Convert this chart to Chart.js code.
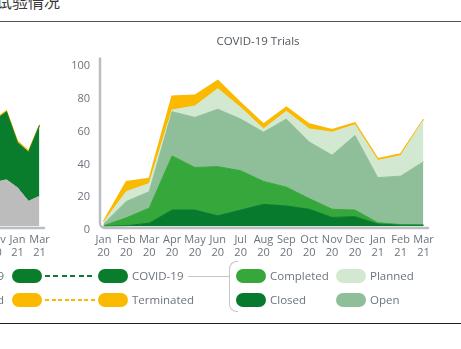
<!DOCTYPE html>
<html lang="en">
<head>
  <meta charset="UTF-8">
  <title>COVID-19 Trials</title>
  <script src="https://cdn.jsdelivr.net/npm/chart.js"></script>
  <style>
    body {
      margin: 0;
      background: #fff;
      font-family: "Open Sans", sans-serif;
    }
    #page {
      position: relative;
      width: 461px;
      height: 349px;
      overflow: hidden;
    }
    canvas {
      position: absolute;
      top: 0;
    }
    .rule {
      position: absolute;
      left: 0;
      width: 461px;
      height: 1px;
    }
    .heading {
      position: absolute;
      left: -4px;
      top: -7px;
      font-family: "Noto Sans CJK SC", sans-serif;
      font-size: 16px;
      line-height: 16px;
      color: #3a3a3a;
      white-space: nowrap;
    }
    .title {
      position: absolute;
      left: 158px;
      width: 200px;
      top: 34px;
      text-align: center;
      font-size: 11.5px;
      line-height: 14px;
      color: #50575e;
    }
    .pill {
      position: absolute;
      width: 30px;
      height: 14px;
      border-radius: 7px;
    }
    .lbl {
      position: absolute;
      font-size: 11.5px;
      line-height: 14px;
      color: #6b737c;
      white-space: nowrap;
    }
    .lbl.right {
      text-align: right;
      width: 100px;
    }
    .dash {
      position: absolute;
      height: 2px;
    }
  </style>
</head>
<body>
<div id="page">
  <div class="heading">试验情况</div>
  <div class="rule" style="top:21px; background:#555;"></div>
  <div class="rule" style="top:323px; background:#222;"></div>

  <canvas id="allChart" width="260" height="349" style="left:-200px"></canvas>
  <canvas id="covidChart" width="461" height="349" style="left:0"></canvas>

  <div class="title">COVID-19 Trials</div>

  <!-- legend, row 1 -->
  <div class="lbl right" style="left:-96px; top:269px;">COVID-19</div>
  <div class="pill" style="left:12px; top:269px; background:#0a7d2c;"></div>
  <div class="dash" style="left:45px; top:275px; width:51px; background:repeating-linear-gradient(to right,#0a7d2c 0 5px,transparent 5px 8.5px);"></div>
  <div class="pill" style="left:98px; top:269px; background:#0a7d2c;"></div>
  <div class="lbl" style="left:132px; top:269px;">COVID-19</div>
  <div style="position:absolute; left:188px; top:275.5px; width:42px; height:1.5px; background:#c3c7cb;"></div>
  <div style="position:absolute; left:229px; top:261px; width:8px; height:49px; border:1.5px solid #c3c7cb; border-right:none; border-radius:8px 0 0 8px;"></div>

  <!-- legend, row 2 -->
  <div class="lbl right" style="left:-96px; top:293px;">Terminated</div>
  <div class="pill" style="left:12px; top:293px; background:#fbb900;"></div>
  <div class="dash" style="left:45px; top:299px; width:51px; background:repeating-linear-gradient(to right,#fbb900 0 4px,transparent 4px 6.5px);"></div>
  <div class="pill" style="left:98px; top:293px; background:#fbb900;"></div>
  <div class="lbl" style="left:132px; top:293px;">Terminated</div>

  <!-- COVID-19 breakdown -->
  <div class="pill" style="left:236px; top:269px; background:#35a73b;"></div>
  <div class="lbl" style="left:270px; top:269px;">Completed</div>
  <div class="pill" style="left:336px; top:269px; background:#d3e8d0;"></div>
  <div class="lbl" style="left:370px; top:269px;">Planned</div>
  <div class="pill" style="left:236px; top:293px; background:#077a2e;"></div>
  <div class="lbl" style="left:270px; top:293px;">Closed</div>
  <div class="pill" style="left:336px; top:293px; background:#8fbf99;"></div>
  <div class="lbl" style="left:370px; top:293px;">Open</div>
</div>

<script>
// COVID-19 trials per month
const months = [["Jan", "20"], ["Feb", "20"], ["Mar", "20"], ["Apr", "20"], ["May", "20"], ["Jun", "20"],
  ["Jul", "20"], ["Aug", "20"], ["Sep", "20"], ["Oct", "20"], ["Nov", "20"], ["Dec", "20"],
  ["Jan", "21"], ["Feb", "21"], ["Mar", "21"]];
const closed = [0, 0.5, 2, 10, 10, 6.5, 10, 13.5, 12.5, 10.5, 5.5, 6, 1.5, 0.8, 0.8];
const completed = [0.5, 4.8, 9.2, 33, 26, 30, 24, 14, 11.5, 6.5, 5, 4, 0.8, 0.4, 0.2];
const open = [1, 10, 10, 27, 30.5, 35, 31.5, 30, 41.5, 34.5, 33, 45.5, 27.5, 29.5, 38.5];
const planned = [1, 6, 5, 1, 7, 12.5, 7, 2, 4.7, 8, 14, 6.5, 10.5, 12.5, 25.5];
const terminated = [0.5, 6, 3, 8.5, 6.5, 5, 3, 3, 2.5, 3, 1.5, 1.2, 1, 1, 0.3];
const yTicks = [0, 20, 40, 60, 80, 100];

// all trials chart (only its last months show on this page)
const leftMonths = [["Nov", "20"], ["Dec", "20"], ["Jan", "21"], ["Feb", "21"], ["Mar", "21"]];
const leftOther = [27, 28.5, 23.6, 15.4, 18.5];
const leftCovid = [38, 41.5, 27.6, 29.9, 43.1];
const leftTerminated = [0.8, 0.6, 1, 0.7, 0.5];

const tickColor = "#6b737c";
Chart.defaults.font.family = "'Open Sans', sans-serif";
Chart.defaults.font.size = 11;
Chart.defaults.color = tickColor;

// gray axis frame with rounded corner
const axisFrame = {
  id: "axisFrame",
  afterDatasetsDraw(chart) {
    const a = chart.chartArea;
    const ctx = chart.ctx;
    const x = a.left - 3.5, y = a.bottom + 1.5, r = 5;
    ctx.save();
    ctx.strokeStyle = "#babec3";
    ctx.lineWidth = 2.5;
    ctx.lineCap = "round";
    ctx.beginPath();
    ctx.moveTo(x, a.top - 4);
    ctx.lineTo(x, y - r);
    ctx.arcTo(x, y, x + r, y, r);
    ctx.lineTo(a.right + 4.5, y);
    ctx.stroke();
    ctx.restore();
  }
};

function area(label, data, color, fill) {
  return {
    label: label,
    data: data,
    backgroundColor: color,
    borderColor: color,
    borderWidth: 1,
    fill: fill,
    pointRadius: 0,
    tension: 0
  };
}

function xScale(everyOther) {
  return {
    grid: { display: false, drawTicks: false },
    border: { display: false },
    ticks: {
      autoSkip: false,
      maxRotation: 0,
      padding: 7,
      callback: function (v, i) {
        if (everyOther && i % 2 !== 0) return null;
        return this.getLabelForValue(v);
      }
    },
    afterFit(s) {
      s.height = 30;
      s.paddingLeft = 0;
      s.paddingRight = 0;
    }
  };
}

function yScale(show) {
  return {
    display: show,
    stacked: true,
    min: 0,
    max: 100,
    grid: { display: false, drawTicks: false },
    border: { display: false },
    afterBuildTicks(s) {
      s.ticks = yTicks.map(v => ({ value: v }));
    },
    ticks: { padding: 13.5, labelOffset: 3.5 },
    afterFit(s) {
      s.width = show ? 40 : 0;
      s.paddingTop = 0;
      s.paddingBottom = 0;
    }
  };
}

new Chart(document.getElementById("allChart"), {
  type: "line",
  data: {
    labels: leftMonths,
    datasets: [
      area("Other", leftOther, "#bcbcbc", "origin"),
      area("COVID-19", leftCovid, "#0a7d2c", "-1"),
      Object.assign(area("Terminated", leftTerminated, "#fbb900", "-1"), { borderWidth: 1.2 })
    ]
  },
  options: {
    responsive: false,
    animation: false,
    layout: { padding: { left: 195.5, right: 20.5, top: 62.5, bottom: 92.5 } },
    plugins: { legend: { display: false }, tooltip: { enabled: false } },
    scales: { x: xScale(true), y: yScale(false) }
  },
  plugins: [axisFrame]
});

new Chart(document.getElementById("covidChart"), {
  type: "line",
  data: {
    labels: months,
    datasets: [
      area("Closed", closed, "#077a2e", "origin"),
      area("Completed", completed, "#35a73b", "-1"),
      area("Open", open, "#8fbf99", "-1"),
      area("Planned", planned, "#d3e8d0", "-1"),
      Object.assign(area("Terminated", terminated, "#fbb900", "-1"), { borderWidth: 1.5 })
    ]
  },
  options: {
    responsive: false,
    animation: false,
    layout: { padding: { left: 63.5, right: 37.5, top: 62.5, bottom: 92.5 } },
    plugins: { legend: { display: false }, tooltip: { enabled: false } },
    scales: { x: xScale(false), y: yScale(true) }
  },
  plugins: [axisFrame]
});
</script>
</body>
</html>
